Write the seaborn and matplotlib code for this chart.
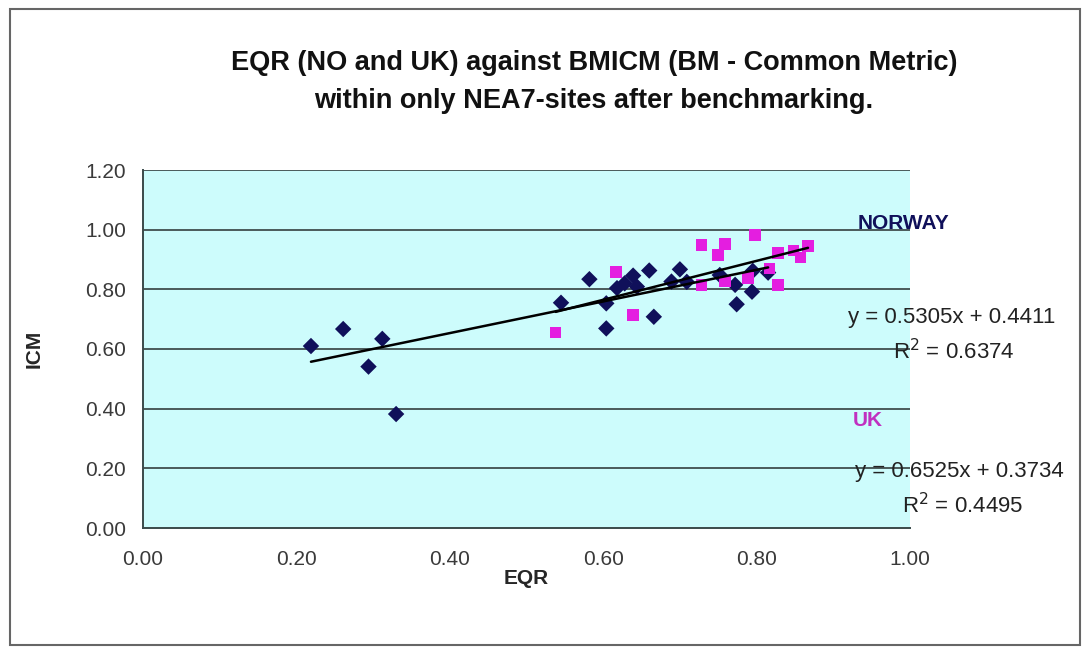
import numpy as np
import pandas as pd
import matplotlib
matplotlib.use("Agg")
import matplotlib.pyplot as plt
import seaborn as sns
from matplotlib.patches import Rectangle

# ---- data ----
norway_eqr = [0.219, 0.261, 0.294, 0.312, 0.330, 0.545, 0.582, 0.604, 0.604, 0.618,
              0.628, 0.639, 0.644, 0.660, 0.666, 0.689, 0.700, 0.709, 0.752, 0.772,
              0.774, 0.794, 0.795, 0.815]
norway_icm = [0.610, 0.667, 0.541, 0.634, 0.382, 0.755, 0.834, 0.753, 0.669, 0.804,
              0.820, 0.846, 0.809, 0.863, 0.708, 0.826, 0.867, 0.825, 0.848, 0.815,
              0.750, 0.792, 0.862, 0.856]
uk_eqr = [0.538, 0.617, 0.639, 0.728, 0.728, 0.750, 0.759, 0.759, 0.789, 0.798,
          0.817, 0.828, 0.828, 0.848, 0.857, 0.867]
uk_icm = [0.655, 0.859, 0.713, 0.949, 0.815, 0.915, 0.952, 0.826, 0.837, 0.982,
          0.870, 0.921, 0.815, 0.930, 0.907, 0.945]

countries = ["NORWAY", "UK"]
trend_slope = [0.5305, 0.6525]
trend_intercept = [0.4411, 0.3734]
r_squared = [0.6374, 0.4495]

x_ticks = [0.0, 0.2, 0.4, 0.6, 0.8, 1.0]
y_ticks = [0.0, 0.2, 0.4, 0.6, 0.8, 1.0, 1.2]

title = "EQR (NO and UK) against BMICM (BM - Common Metric)\nwithin only NEA7-sites after benchmarking."
x_label = "EQR"
y_label = "ICM"

df = pd.DataFrame({
    "EQR": norway_eqr + uk_eqr,
    "ICM": norway_icm + uk_icm,
    "Country": ["NORWAY"] * len(norway_eqr) + ["UK"] * len(uk_eqr),
})

# ---- figure ----
sns.set_style("white")
plt.rcParams["font.family"] = ["Liberation Sans", "DejaVu Sans"]

fig = plt.figure(figsize=(10.9, 6.54), dpi=100)
ax = fig.add_axes([143 / 1090, 1 - 528 / 654, (910 - 143) / 1090, (528 - 170) / 654])
ax.set_facecolor("#cdfcfc")

colors = {"NORWAY": "#10105a", "UK": "#e41ee0"}
markers = {"NORWAY": "D", "UK": "s"}

for y in y_ticks[1:]:
    ax.axhline(y, color="#4a5a5a", lw=1.4, zorder=1)

sns.scatterplot(data=df, x="EQR", y="ICM", hue="Country", style="Country",
                palette=colors, markers=markers, s=70, linewidth=0,
                legend=False, ax=ax, zorder=3)

# trendlines (Excel-like, spanning each series' x range)
series_x = {"NORWAY": norway_eqr, "UK": uk_eqr}
for c, m, b in zip(countries, trend_slope, trend_intercept):
    xs = np.array([min(series_x[c]), max(series_x[c])])
    ax.plot(xs, m * xs + b, color="black", lw=1.8, zorder=4)

ax.set_xlim(0, 1.0)
ax.set_ylim(0, 1.2)
ax.set_xticks(x_ticks)
ax.set_yticks(y_ticks)
ax.set_xticklabels([f"{v:.2f}" for v in x_ticks], fontsize=15, color="#3a3a3a")
ax.set_yticklabels([f"{v:.2f}" for v in y_ticks], fontsize=15, color="#3a3a3a")
ax.tick_params(axis="both", direction="out", length=6, width=1.2, color="#3a4a4a", pad=6)
ax.tick_params(axis="x", pad=10)
for s in ["top", "right"]:
    ax.spines[s].set_visible(False)
for s in ["left", "bottom"]:
    ax.spines[s].set_color("#3a4a4a")
    ax.spines[s].set_linewidth(1.4)

ax.set_xlabel(x_label, fontsize=15, fontweight="bold", labelpad=0)
ax.set_ylabel(y_label, fontsize=15, fontweight="bold", labelpad=30)

fig.suptitle(title, x=0.545, y=1 - 50 / 654, fontsize=19.5, fontweight="bold",
             va="top", linespacing=1.6, color="#111111")

# annotations
eq_kw = dict(fontsize=16, ha="center", va="center", clip_on=False, color="#222222")
ax.text(0.991, 1.022, "NORWAY", color="#10105a", fontsize=15, fontweight="bold",
        ha="center", va="center", clip_on=False)
ax.text(1.055, 0.704, f"y = {trend_slope[0]:.4f}x + {trend_intercept[0]:.4f}", **eq_kw)
ax.text(1.057, 0.590, f"R$^2$ = {r_squared[0]:.4f}", **eq_kw)
ax.text(0.945, 0.362, "UK", color="#c030c0", fontsize=15, fontweight="bold",
        ha="center", va="center", clip_on=False)
ax.text(1.065, 0.188, f"y = {trend_slope[1]:.4f}x + {trend_intercept[1]:.4f}", **eq_kw)
ax.text(1.069, 0.074, f"R$^2$ = {r_squared[1]:.4f}", **eq_kw)

# outer chart border
fig.patches.append(Rectangle((10 / 1090, 9 / 654), 1070 / 1090, 636 / 654,
                             transform=fig.transFigure, fill=False,
                             edgecolor="#666666", lw=1.5))

fig.savefig("out.png", dpi=100)
